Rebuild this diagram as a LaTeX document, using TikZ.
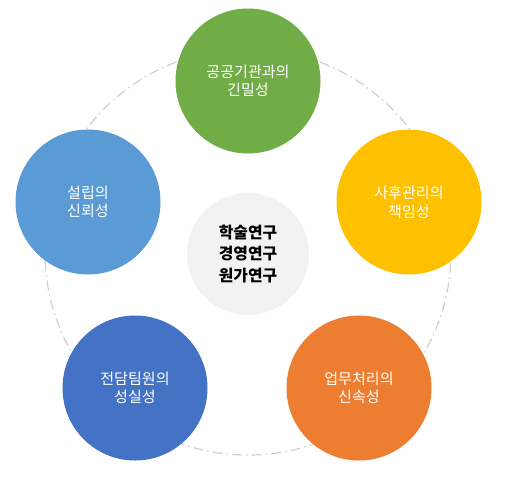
\documentclass[tikz,border=0pt]{standalone}
\usepackage{fontspec}
\setmainfont{Noto Sans CJK KR}
\begin{document}
\begin{tikzpicture}[x=0.75pt,y=-0.75pt,
  bubble/.style={circle,minimum size=145*0.75pt,inner sep=0pt,text=white,
    align=center,font=\fontsize{11.3pt}{14pt}\selectfont},
  core/.style={circle,minimum size=122*0.75pt,inner sep=0pt,fill=coregray,
    align=center,font=\bfseries\fontsize{11.9pt}{15.8pt}\selectfont},
  ring/.style={draw=ringgray,line width=0.9pt,dash pattern=on 7.5pt off 3pt on 1.2pt off 3pt}]
\definecolor{cgreen}{HTML}{70AD47}
\definecolor{cyellow}{HTML}{FFC000}
\definecolor{corange}{HTML}{ED7D31}
\definecolor{cdblue}{HTML}{4472C4}
\definecolor{clblue}{HTML}{5B9BD5}
\definecolor{coregray}{HTML}{F2F2F2}
\definecolor{ringgray}{HTML}{CFCFCF}
\useasboundingbox (0,0) rectangle (514,486);
\coordinate (c) at (248,252);
\draw[ring] (c) circle[radius=203*0.75pt];
\node[core] (center) at (248,254) {학술연구\\경영연구\\원가연구};
\node[bubble,fill=cgreen] (g) at (248,81) {공공기관과의\\긴밀성};
\node[bubble,fill=cyellow] (y) at (409,202) {사후관리의\\책임성};
\node[bubble,fill=corange] (o) at (359,388) {업무처리의\\신속성};
\node[bubble,fill=cdblue] (d) at (135,388) {전담팀원의\\성실성};
\node[bubble,fill=clblue] (l) at (88,202) {설립의\\신뢰성};
\end{tikzpicture}
\end{document}
